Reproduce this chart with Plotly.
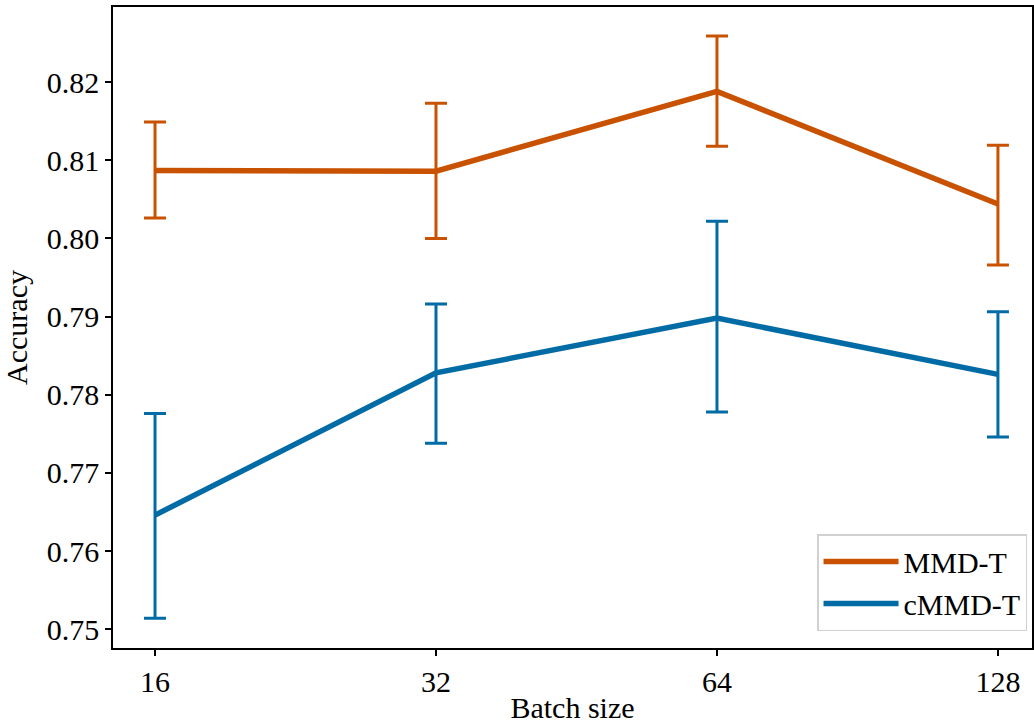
import plotly.graph_objects as go

batch_sizes = [16, 32, 64, 128]
tick_labels = ["16", "32", "64", "128"]

mmd_mean = [0.8087, 0.8086, 0.8188, 0.8044]
mmd_upper = [0.8149, 0.8173, 0.8259, 0.8119]
mmd_lower = [0.8026, 0.8000, 0.8118, 0.7966]

cmmd_mean = [0.7646, 0.7828, 0.7898, 0.7826]
cmmd_upper = [0.7776, 0.7916, 0.8022, 0.7906]
cmmd_lower = [0.7514, 0.7738, 0.7778, 0.7746]

y_ticks = [0.75, 0.76, 0.77, 0.78, 0.79, 0.80, 0.81, 0.82]
y_tick_labels = ["0.75", "0.76", "0.77", "0.78", "0.79", "0.80", "0.81", "0.82"]

ORANGE = "#C85200"
BLUE = "#006BA4"
FONT = "Liberation Serif"

fig = go.Figure()


def add_series(name, mean, upper, lower, color):
    fig.add_trace(go.Scatter(
        x=batch_sizes, y=mean, name=name, mode="lines",
        line=dict(color=color, width=5.5),
        error_y=dict(type="data", symmetric=False,
                     array=[u - m for u, m in zip(upper, mean)],
                     arrayminus=[m - l for m, l in zip(mean, lower)],
                     color=color, thickness=3, width=11),
    ))


add_series("MMD-T", mmd_mean, mmd_upper, mmd_lower, ORANGE)
add_series("cMMD-T", cmmd_mean, cmmd_upper, cmmd_lower, BLUE)

axis_common = dict(showline=True, linecolor="black", linewidth=1.5, mirror=True,
                   ticks="outside", ticklen=6, tickwidth=1.5, tickcolor="black",
                   showgrid=False, zeroline=False, automargin=False,
                   tickfont=dict(family=FONT, size=30, color="black"))

fig.update_layout(
    width=1034, height=724,
    margin=dict(l=113, r=2, t=7, b=76),
    plot_bgcolor="white", paper_bgcolor="white",
    font=dict(family=FONT, size=30, color="black"),
    xaxis=dict(type="log", range=[1.1591, 2.1437],
               tickvals=batch_sizes, ticktext=tick_labels,
               title=dict(text="Batch size", font=dict(family=FONT, size=30), standoff=10),
               **axis_common),
    yaxis=dict(range=[0.7476, 0.8296], tickvals=y_ticks, ticktext=y_tick_labels,
               title=dict(text="Accuracy", font=dict(family=FONT, size=30), standoff=10),
               **axis_common),
    legend=dict(x=0.9946, y=0.0265, xanchor="right", yanchor="bottom",
                bgcolor="rgba(255,255,255,0.8)", bordercolor="#d0d0d0", borderwidth=1.5,
                font=dict(family=FONT, size=30), itemwidth=75, tracegroupgap=0),
)

fig.write_html("out.html")
